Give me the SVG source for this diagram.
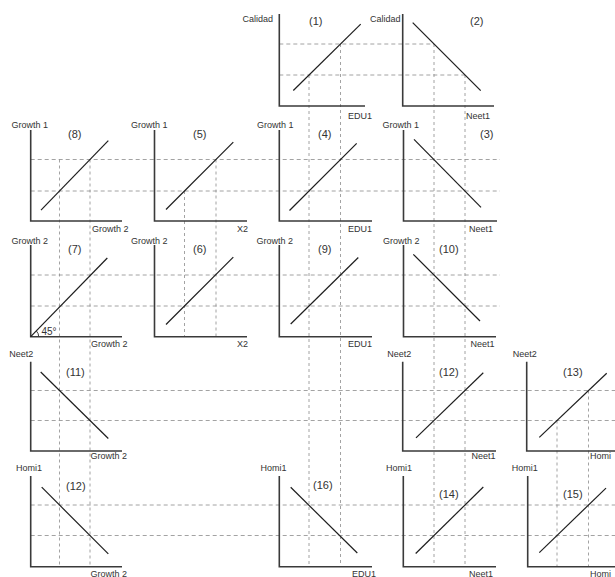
<svg xmlns="http://www.w3.org/2000/svg" width="615" height="577" viewBox="0 0 615 577">
<style>
.ax{stroke:#3a3a3a;stroke-width:1.6;fill:none}
.cv{stroke:#1e1e1e;stroke-width:1.2;fill:none}
.dh{stroke:#8c8c8c;stroke-width:0.8;stroke-dasharray:4 3;fill:none}
.dv{stroke:#8c8c8c;stroke-width:0.8;stroke-dasharray:3 3;fill:none}
.lb{font-family:"Liberation Sans",Arial,sans-serif;font-size:9px;fill:#333}
.nm{font-family:"Liberation Sans",Arial,sans-serif;font-size:11px;fill:#333}
</style>
<rect width="615" height="577" fill="#fff"/>
<g id="connectors">
<!-- horizontal dashed guides -->
<path class="dh" d="M279.3 44H434 M279.3 75H465"/>
<path class="dh" d="M30.7 159.5H500 M30.7 191H500"/>
<path class="dh" d="M30.7 275H500 M30.7 306H500"/>
<path class="dh" d="M30.7 390.5H615 M30.7 420.5H615"/>
<path class="dh" d="M30.7 505H615 M30.7 535.5H615"/>
<!-- vertical dashed guides -->
<path class="dv" d="M59.5 159.5V566.7 M90 159.5V566.7"/>
<path class="dv" d="M184.5 191V336.7 M216 159.5V336.7"/>
<path class="dv" d="M309 75V566.7 M340.5 44V566.7"/>
<path class="dv" d="M434 44V566.7 M465 75V566.7"/>
<path class="dv" d="M557 420.5V566.7 M588.5 390.5V566.7"/>
</g>
<g id="p1">
<path class="ax" d="M279.3 14V106H365"/>
<path class="cv" d="M293.3 90.5L360.7 24.1"/>
<text class="lb" x="242.5" y="21.5">Calidad</text>
<text class="nm" x="309" y="25">(1)</text>
<text class="lb" x="348" y="119">EDU1</text>
</g>
<g id="p2">
<path class="ax" d="M402.7 14V106H494"/>
<path class="cv" d="M412.7 22.7L480.7 90.7"/>
<text class="lb" x="370" y="21.5">Calidad</text>
<text class="nm" x="470" y="25">(2)</text>
<text class="lb" x="466" y="119">Neet1</text>
</g>
<g id="p8">
<path class="ax" d="M30.7 130V221H122"/>
<path class="cv" d="M41 210.1L108.3 140.6"/>
<text class="lb" x="11.5" y="128">Growth 1</text>
<text class="nm" x="68" y="137.5">(8)</text>
<text class="lb" x="92" y="231.5">Growth 2</text>
</g>
<g id="p5">
<path class="ax" d="M154.5 130V221H247"/>
<path class="cv" d="M166 209.5L233.3 142.2"/>
<text class="lb" x="131" y="128">Growth 1</text>
<text class="nm" x="193" y="137.5">(5)</text>
<text class="lb" x="237" y="231.5">X2</text>
</g>
<g id="p4">
<path class="ax" d="M279.3 130V221H372"/>
<path class="cv" d="M289.5 210.5L356.7 143.3"/>
<text class="lb" x="257" y="128">Growth 1</text>
<text class="nm" x="318" y="137.5">(4)</text>
<text class="lb" x="348" y="231.5">EDU1</text>
</g>
<g id="p3">
<path class="ax" d="M403.5 130V221H497"/>
<path class="cv" d="M414 139.4L481 207.3"/>
<text class="lb" x="382.5" y="128">Growth 1</text>
<text class="nm" x="480" y="137.5">(3)</text>
<text class="lb" x="469" y="231.5">Neet1</text>
</g>
<g id="p7">
<path class="ax" d="M30.7 245V336.7H122"/>
<path class="cv" d="M30.7 336.7L107.3 258"/>
<path class="ax" style="stroke-width:1" d="M38.7 336.7A8 8 0 0 0 36.4 331"/>
<text class="lb" style="font-size:10px" x="41.5" y="335">45°</text>
<text class="lb" x="11.5" y="244">Growth 2</text>
<text class="nm" x="68" y="253">(7)</text>
<text class="lb" x="91" y="347">Growth 2</text>
</g>
<g id="p6">
<path class="ax" d="M154.5 245V336.7H247"/>
<path class="cv" d="M166 324.5L233.3 257.2"/>
<text class="lb" x="131" y="244">Growth 2</text>
<text class="nm" x="193" y="253">(6)</text>
<text class="lb" x="237" y="347">X2</text>
</g>
<g id="p9">
<path class="ax" d="M279.3 245V336.7H372"/>
<path class="cv" d="M290.7 324L358.3 257.5"/>
<text class="lb" x="256.5" y="244">Growth 2</text>
<text class="nm" x="318" y="253">(9)</text>
<text class="lb" x="348" y="347">EDU1</text>
</g>
<g id="p10">
<path class="ax" d="M403.5 245V336.7H496"/>
<path class="cv" d="M413.3 254.3L480 321"/>
<text class="lb" x="383" y="244">Growth 2</text>
<text class="nm" x="439" y="253">(10)</text>
<text class="lb" x="470.5" y="347">Neet1</text>
</g>
<g id="p11">
<path class="ax" d="M30.7 361.7V451H122"/>
<path class="cv" d="M40.7 372L108.3 438.5"/>
<text class="lb" x="9.3" y="356.7">Neet2</text>
<text class="nm" x="66" y="376">(11)</text>
<text class="lb" x="90.5" y="459">Growth 2</text>
</g>
<g id="p12a">
<path class="ax" d="M402.7 361.7V451H496"/>
<path class="cv" d="M416 437.9L483.3 372.8"/>
<text class="lb" x="387.3" y="357">Neet2</text>
<text class="nm" x="439" y="375.5">(12)</text>
<text class="lb" x="471.5" y="459">Neet1</text>
</g>
<g id="p13">
<path class="ax" d="M526.7 361.7V451H615"/>
<path class="cv" d="M539.3 437.4L606.7 373.2"/>
<text class="lb" x="512.7" y="357">Neet2</text>
<text class="nm" x="563" y="375.5">(13)</text>
<text class="lb" x="590" y="459">Homi</text>
</g>
<g id="p12b">
<path class="ax" d="M30.7 476V566.7H122"/>
<path class="cv" d="M41.7 487.2L108.3 553.8"/>
<text class="lb" x="16" y="470.5">Homi1</text>
<text class="nm" x="66" y="490">(12)</text>
<text class="lb" x="90.5" y="576.5">Growth 2</text>
</g>
<g id="p16">
<path class="ax" d="M279.3 476V566.7H372"/>
<path class="cv" d="M290.7 487.3L357.3 553"/>
<text class="lb" x="260.5" y="470.5">Homi1</text>
<text class="nm" x="313" y="488.5">(16)</text>
<text class="lb" x="352" y="576.5">EDU1</text>
</g>
<g id="p14">
<path class="ax" d="M403.3 476V566.7H496"/>
<path class="cv" d="M415.7 553.5L483.3 487"/>
<text class="lb" x="386" y="470.5">Homi1</text>
<text class="nm" x="439" y="497.5">(14)</text>
<text class="lb" x="469" y="576.5">Neet1</text>
</g>
<g id="p15">
<path class="ax" d="M527.7 476V566.7H615"/>
<path class="cv" d="M539.3 552.6L606 488.1"/>
<text class="lb" x="511.7" y="470.5">Homi1</text>
<text class="nm" x="563" y="497.5">(15)</text>
<text class="lb" x="590" y="576.5">Homi</text>
</g>
</svg>
